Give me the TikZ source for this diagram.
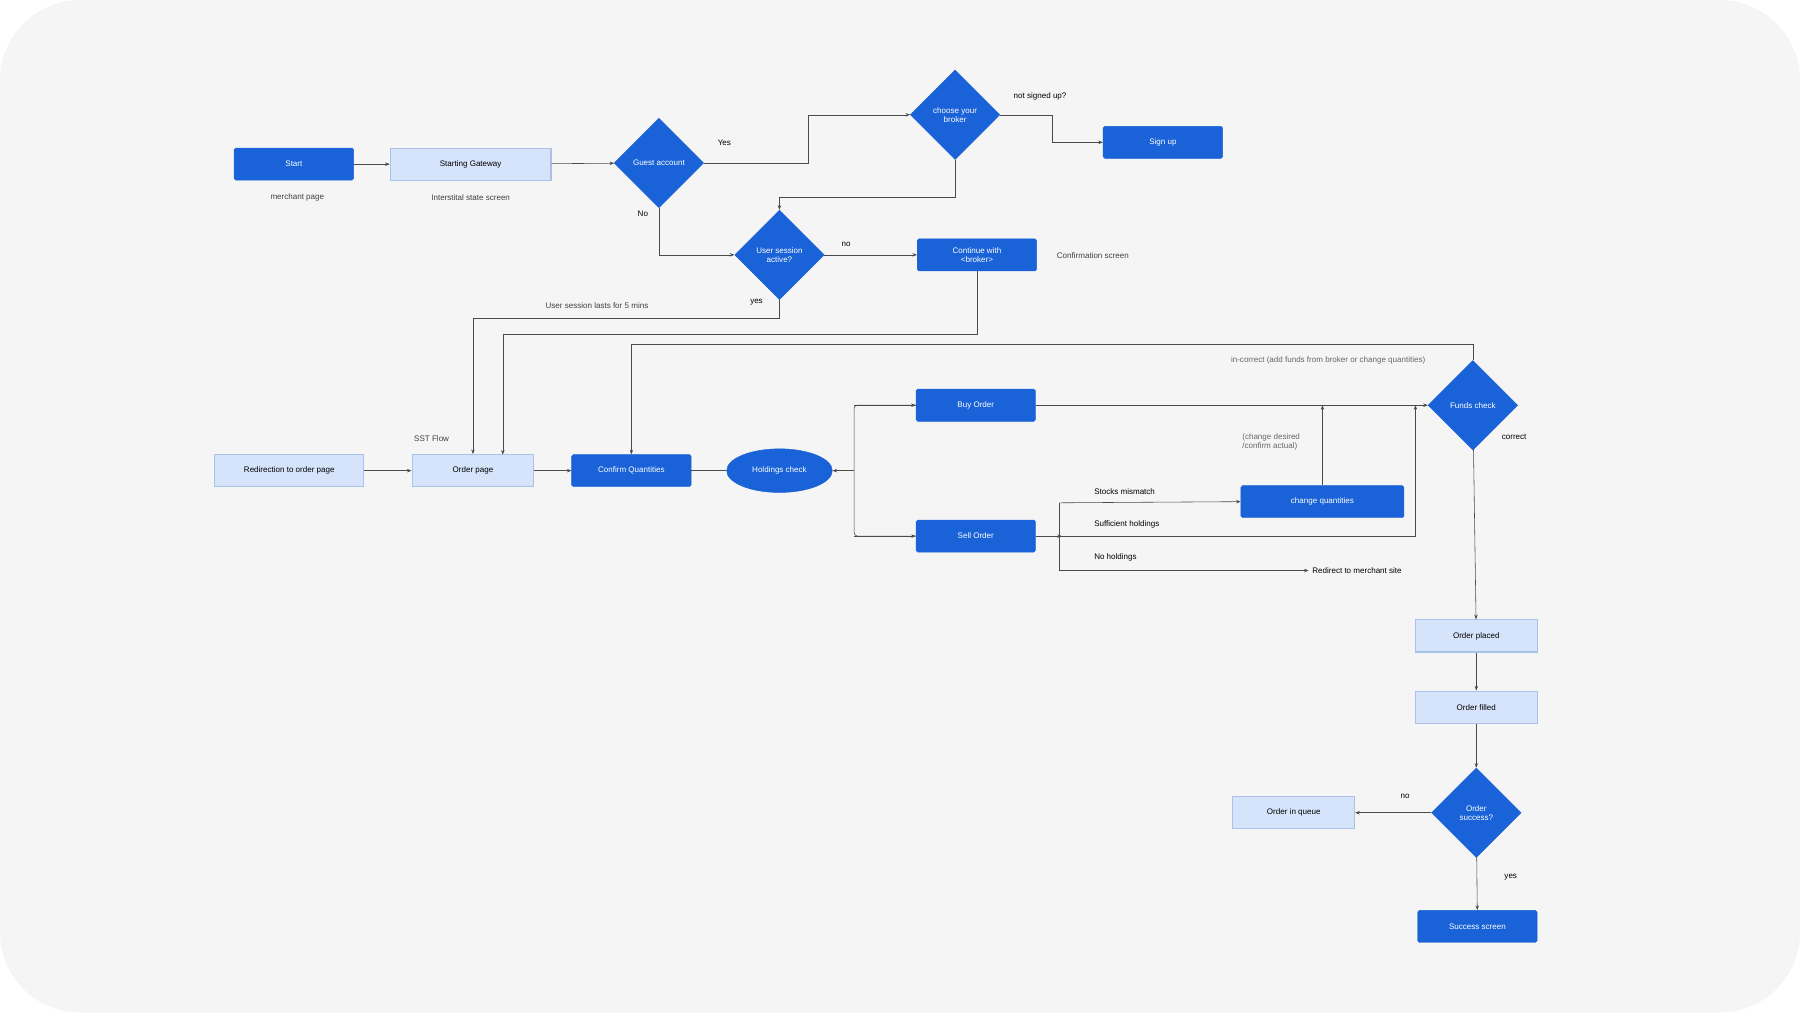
\documentclass[tikz,border=0pt]{standalone}
\usepackage{fontspec}
\setmainfont{Liberation Sans}
\usetikzlibrary{shapes.geometric,arrows.meta}
\definecolor{dblue}{HTML}{1A62D8}
\definecolor{lblue}{HTML}{D5E4FB}
\definecolor{lbord}{HTML}{A8C2EA}
\definecolor{bg}{HTML}{F5F5F5}
\definecolor{ln}{HTML}{4A4A4A}
\begin{document}
\begin{tikzpicture}[x=1pt,y=-1pt,font=\fontsize{7}{8}\selectfont,
 dk/.style={draw=dblue,fill=dblue,text=white,rounded corners=1.5pt,minimum width=104pt,minimum height=28pt,inner sep=1pt,align=center},
 lt/.style={draw=lbord,line width=1pt,fill=lblue,text=black,minimum width=#1,minimum height=28pt,inner sep=1pt,align=center},
 lt/.default=106pt,
 dia/.style={diamond,draw=dblue,fill=dblue,text=white,minimum width=78pt,minimum height=78pt,inner sep=0pt,align=center,aspect=1},
 lab/.style={text=black,inner sep=1pt,align=left},
 gl/.style={text=black!60,inner sep=1pt,align=left},
 c/.style={draw=ln,line width=0.5pt},
 a/.style={c,-{Stealth[length=4pt,width=3pt]}}]
\useasboundingbox (0,0) rectangle (1568,882);
\fill[white] (0,0) rectangle (1568,882);
\fill[bg,rounded corners=70pt] (0,0) rectangle (1568,882);
% nodes
\node[dk] (start) at (256,143) {Start};
\node[lt=140pt] (gate) at (410,143) {Starting Gateway};
\node[dia] (guest) at (574,142) {Guest account};
\node[dia] (broker) at (832,100) {choose your\\broker};
\node[dk] (signup) at (1013,124) {Sign up};
\node[dia] (sess) at (679,222) {User session\\active?};
\node[dk] (cont) at (851,222) {Continue with\\<broker>};
\node[lt=130pt] (redir) at (252,410) {Redirection to order page};
\node[lt] (order) at (412,410) {Order page};
\node[dk] (confirm) at (550,410) {Confirm Quantities};
\node[ellipse,draw=dblue,fill=dblue,text=white,minimum width=92pt,minimum height=38pt,inner sep=0pt] (hold) at (679,410) {Holdings check};
\node[dk] (buy) at (850,353) {Buy Order};
\node[dk] (sell) at (850,467) {Sell Order};
\node[dk,minimum width=142pt] (chg) at (1152,437) {change quantities};
\node[dia] (funds) at (1283,353) {Funds check};
\node[lt] (placed) at (1286,554) {Order placed};
\node[lt] (filled) at (1286,616) {Order filled};
\node[dia] (succ) at (1286,708) {Order\\success?};
\node[lt] (queue) at (1127,708) {Order in queue};
\node[dk] (sscreen) at (1287,807) {Success screen};
\coordinate (redirtxt) at (1140,497);
% labels
\node[gl,text=black!75] at (259,172) {merchant page};
\node[gl,text=black!75] at (410,172) {Interstital state screen};
\node[lab] at (631,124) {Yes};
\node[lab] at (560,186) {No};
\node[lab] at (906,84) {not signed up?};
\node[lab] at (737,213) {no};
\node[gl,text=black!75] at (952,223) {Confirmation screen};
\node[lab] at (659,263) {yes};
\node[gl,text=black!75] at (520,266) {User session lasts for 5 mins};
\node[gl,text=black!75] at (376,382) {SST Flow};
\node[gl] at (1157,314) {in-correct (add funds from broker or change quantities)};
\node[lab] at (1319,381) {correct};
\node[gl,anchor=west] at (1081,385) {(change desired\\/confirm actual)};
\node[lab,anchor=west] at (952,428) {Stocks mismatch};
\node[lab,anchor=west] at (952,457) {Sufficient holdings};
\node[lab,anchor=west] at (952,486) {No holdings};
\node[lab,anchor=west] at (1142,497) {Redirect to merchant site};
\node[lab] at (1224,694) {no};
\node[lab] at (1316,764) {yes};
% connectors
\draw[a] (start) -- (gate);
\draw[a] (gate) -- (guest);
\draw[a] (guest.east) -- (704,142) -- (704,100) -- (broker.west);
\draw[a] (broker.east) -- (917,100) -- (917,124) -- (signup.west);
\draw[a] (broker.south) -- (832,172) -- (679,172) -- (sess.north);
\draw[a] (guest.south) -- (574,222) -- (sess.west);
\draw[a] (sess) -- (cont);
\draw[a] (sess.south) -- (679,277) -- (412,277) -- (order.north);
\draw[a] (cont.south) -- (851,291) -- (438,291) -- (438,396);
\draw[a] (funds.north) -- (1283,300) -- (550,300) -- (confirm.north);
\draw[a] (redir) -- (order);
\draw[a] (order) -- (confirm);
\draw[c] (confirm) -- (hold);
\draw[c,rounded corners=3pt] (buy.west) -- (744,353) -- (744,467) -- (sell.west);
\draw[a] (744,353) -- (buy.west);
\draw[a] (744,467) -- (sell.west);
\draw[a] (744,410) -- (hold.east);
\draw[a] (buy) -- (funds);
\draw[a] (sell.east) -- (925,467);
\draw[c] (923,438) -- (923,497);
\draw[a] (923,438) -- (chg.west);
\draw[a] (923,467) -- (1233,467) -- (1233,353);
\draw[a] (923,497) -- (redirtxt);
\draw[a] (chg.north) -- (1152,353);
\draw[a] (funds) -- (placed);
\draw[a] (placed) -- (filled);
\draw[a] (filled) -- (succ);
\draw[a] (succ) -- (queue);
\draw[a] (succ) -- (sscreen);
\end{tikzpicture}
\end{document}
